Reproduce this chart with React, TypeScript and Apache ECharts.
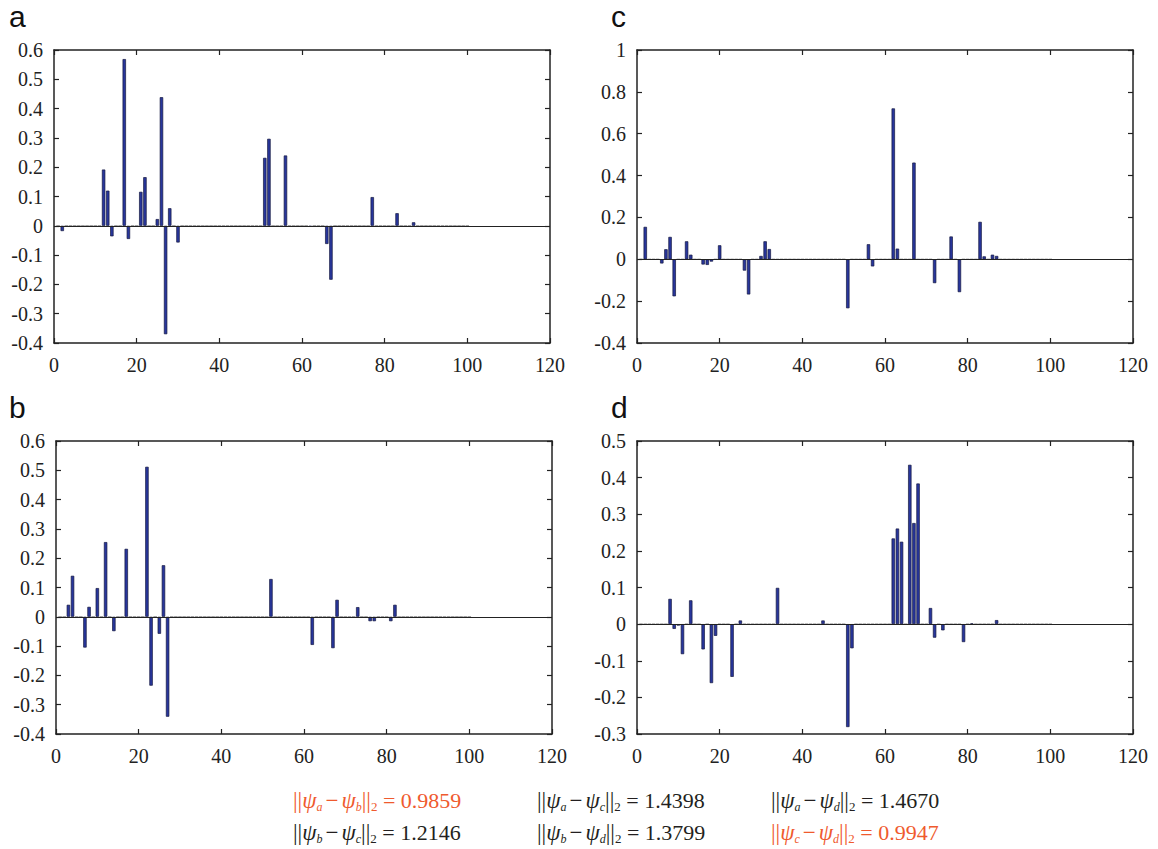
import React, { useEffect, useRef } from "react";
import * as echarts from "echarts";

const N_POS = 100;
const X_TICKS = { min: 0, max: 120, interval: 20 };

const aIdx = [2, 12, 13, 14, 17, 18, 21, 22, 25, 26, 27, 28, 30, 51, 52, 56, 62, 66, 67, 77, 83, 87];
const aVal = [-0.018, 0.192, 0.12, -0.036, 0.569, -0.045, 0.116, 0.166, 0.023, 0.439, -0.37, 0.06, -0.057, 0.232, 0.297, 0.24, -0.003, -0.062, -0.184, 0.098, 0.043, 0.012];

const bIdx = [3, 4, 7, 8, 10, 12, 14, 17, 22, 23, 25, 26, 27, 52, 62, 67, 68, 73, 76, 77, 81, 82];
const bVal = [0.041, 0.14, -0.105, 0.034, 0.098, 0.255, -0.049, 0.232, 0.512, -0.235, -0.058, 0.176, -0.341, 0.129, -0.096, -0.107, 0.058, 0.033, -0.015, -0.015, -0.015, 0.041];

const cIdx = [2, 6, 7, 8, 9, 12, 13, 16, 17, 18, 20, 26, 27, 30, 31, 32, 51, 56, 57, 62, 63, 67, 72, 76, 78, 83, 84, 86, 87];
const cVal = [0.155, -0.02, 0.048, 0.107, -0.177, 0.086, 0.022, -0.025, -0.027, -0.011, 0.067, -0.054, -0.168, 0.016, 0.086, 0.049, -0.234, 0.072, -0.034, 0.721, 0.051, 0.462, -0.114, 0.109, -0.157, 0.179, 0.014, 0.022, 0.016];

const dIdx = [8, 9, 10, 11, 13, 16, 18, 19, 23, 25, 34, 45, 51, 52, 62, 63, 64, 66, 67, 68, 71, 72, 74, 79, 81, 87];
const dVal = [0.069, -0.013, -0.004, -0.082, 0.065, -0.069, -0.161, -0.032, -0.144, 0.01, 0.099, 0.01, -0.281, -0.066, 0.234, 0.261, 0.225, 0.435, 0.276, 0.384, 0.044, -0.037, -0.017, -0.049, 0.002, 0.011];

const panelLetters = ["a", "b", "c", "d"];
const yMins = [-0.4, -0.4, -0.4, -0.3];
const yMaxs = [0.6, 0.6, 1, 0.5];
const yIntervals = [0.1, 0.1, 0.2, 0.1];

const normFirst = ["a", "b", "a", "b", "a", "c"];
const normSecond = ["b", "c", "c", "d", "d", "d"];
const normValues = ["0.9859", "1.2146", "1.4398", "1.3799", "1.4670", "0.9947"];
const normHighlighted = [true, false, false, false, false, true];

const SERIF = "Liberation Serif";
const SANS = "Liberation Sans";
const FRAME = "#222";
const BAR = "#28369c";
const BAR_EDGE = "#15183f";

function fullSeries(idx: number[], val: number[]) {
  const m = new Map<number, number>();
  idx.forEach((i, k) => m.set(i, val[k]));
  const out: any[] = [];
  for (let i = 1; i <= N_POS; i++) {
    const v = m.has(i) ? (m.get(i) as number) : 0;
    if (v === 0) {
      out.push({ value: [i, 0], itemStyle: { color: "#999", borderColor: "#999", borderWidth: 1 } });
    } else {
      out.push({ value: [i, v] });
    }
  }
  return out;
}

export default function App() {
  const ref = useRef<HTMLDivElement>(null);
  useEffect(() => {
    document.body.style.margin = "0";
    const chart = echarts.init(ref.current!, undefined, { renderer: "svg" });
    const grids = [
      { left: 54, top: 50, width: 496, height: 293 },
      { left: 56, top: 441, width: 496, height: 293 },
      { left: 637, top: 50, width: 496, height: 293 },
      { left: 637, top: 441, width: 496, height: 293 },
    ];
    const datas = [
      fullSeries(aIdx, aVal),
      fullSeries(bIdx, bVal),
      fullSeries(cIdx, cVal),
      fullSeries(dIdx, dVal),
    ];
    const labelStyle = { fontFamily: SERIF, fontSize: 20, color: "#222" };
    const xAxes: any[] = [];
    const yAxes: any[] = [];
    const series: any[] = [];
    grids.forEach((g, k) => {
      const base = {
        gridIndex: k,
        type: "value",
        axisLine: { show: true, onZero: false, lineStyle: { color: FRAME, width: 1.5 } },
        axisTick: { show: true, inside: true, length: 5, lineStyle: { color: FRAME, width: 1.2 } },
        splitLine: { show: false },
      };
      xAxes.push({ ...base, ...X_TICKS, position: "bottom", axisLabel: { ...labelStyle, margin: 12 } });
      xAxes.push({ ...base, ...X_TICKS, position: "top", axisLabel: { show: false } });
      const yr = { min: yMins[k], max: yMaxs[k], interval: yIntervals[k] };
      yAxes.push({ ...base, ...yr, position: "left", axisLabel: { ...labelStyle, margin: 11 } });
      yAxes.push({ ...base, ...yr, position: "right", axisLabel: { show: false } });
      series.push({
        type: "bar",
        xAxisIndex: 2 * k,
        yAxisIndex: 2 * k,
        barWidth: 3.4,
        itemStyle: { color: BAR, borderColor: BAR_EDGE, borderWidth: 0.7 },
        data: datas[k],
        markLine: {
          silent: true,
          symbol: ["none", "none"],
          label: { show: false },
          lineStyle: { color: FRAME, width: 1, type: "solid" },
          data: [{ yAxis: 0 }],
        },
      });
    });

    const letterPos = [
      [9, 1],
      [9, 392],
      [611, 1],
      [611, 392],
    ];
    const graphics: any[] = panelLetters.map((t, k) => ({
      type: "text",
      x: letterPos[k][0],
      y: letterPos[k][1],
      style: { text: t, fontFamily: SANS, fontSize: 30, fill: "#111", verticalAlign: "top", align: "left" },
    }));

    const colX = [293, 537, 771];
    const rowY = [800, 832];
    const order = [
      [0, 0],
      [0, 1],
      [1, 0],
      [1, 1],
      [2, 0],
      [2, 1],
    ];
    normValues.forEach((v, k) => {
      const color = normHighlighted[k] ? "#ef5a2e" : "#231f20";
      const [c, r] = order[k];
      const rich = {
        n: { fontSize: 23, fontFamily: SERIF, fill: color },
        p: { fontSize: 23, fontFamily: SERIF, fontStyle: "italic", fill: color },
        s: { fontSize: 12, fontFamily: SERIF, fontStyle: "italic", fill: color, verticalAlign: "bottom", lineHeight: 14 },
        s2: { fontSize: 13, fontFamily: SERIF, fill: color, verticalAlign: "bottom", lineHeight: 12 },
        m: { fontSize: 23, fontFamily: SERIF, fill: color, padding: [0, 3, 0, 3] },
        e: { fontSize: 22, fontFamily: SERIF, fill: color },
      };
      graphics.push({
        type: "text",
        x: colX[c],
        y: rowY[r],
        style: {
          text: `{n|||}{p|ψ}{s|${normFirst[k]}}{m|−}{p|ψ}{s|${normSecond[k]}}{n|||}{s2|2}{e| = ${v}}`,
          rich,
          fill: color,
          fontFamily: SERIF,
          fontSize: 22,
          lineHeight: 26,
          verticalAlign: "middle",
          align: "left",
        },
      });
    });

    chart.setOption({
      animation: false,
      grid: grids,
      xAxis: xAxes,
      yAxis: yAxes,
      series,
      graphic: graphics,
    });
    return () => chart.dispose();
  }, []);
  return <div ref={ref} style={{ width: 1158, height: 849 }} />;
}
